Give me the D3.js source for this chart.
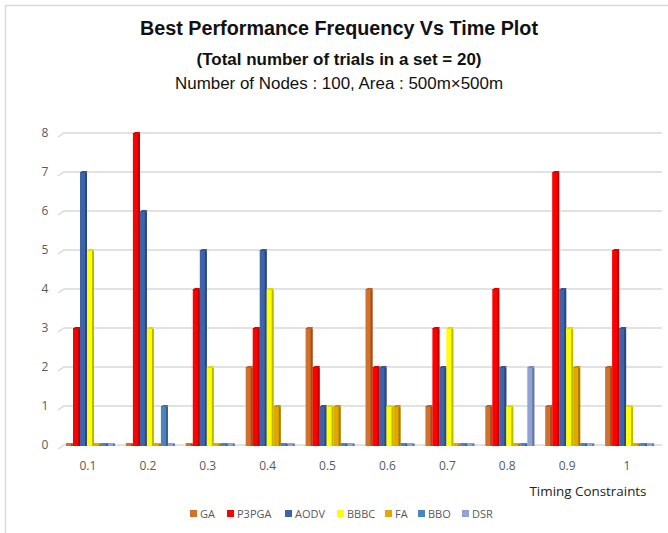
<!DOCTYPE html>
<html>
<head>
<meta charset="utf-8">
<script src="https://cdn.jsdelivr.net/npm/d3@7"></script>
<style>
  body { margin: 0; background: #fff; }
  svg { display: block; }
</style>
</head>
<body>
<div id="chart"></div>
<script>
// categories (timing constraints) and one array per algorithm
var categories = ["0.1", "0.2", "0.3", "0.4", "0.5", "0.6", "0.7", "0.8", "0.9", "1"];
var seriesNames = ["GA", "P3PGA", "AODV", "BBBC", "FA", "BBO", "DSR"];
var GA    = [0, 0, 0, 2, 3, 4, 1, 1, 1, 2];
var P3PGA = [3, 8, 4, 3, 2, 2, 3, 4, 7, 5];
var AODV  = [7, 6, 5, 5, 1, 2, 2, 2, 4, 3];
var BBBC  = [5, 3, 2, 4, 1, 1, 3, 1, 3, 1];
var FA    = [0, 0, 0, 1, 1, 1, 0, 0, 2, 0];
var BBO   = [0, 1, 0, 0, 0, 0, 0, 0, 0, 0];
var DSR   = [0, 0, 0, 0, 0, 0, 0, 2, 0, 0];
var yTicks = [0, 1, 2, 3, 4, 5, 6, 7, 8];

var colors = ["#d4702c", "#ff0000", "#3d63aa", "#ffff00", "#e3a700", "#4a85c0", "#8fa3d8"];
var seriesValues = [GA, P3PGA, AODV, BBBC, FA, BBO, DSR];

var W = 668, H = 533;
var svg = d3.select("#chart").append("svg")
    .attr("width", W)
    .attr("height", H);

// outer frame (only left and top edges are visible in the picture)
svg.append("path")
    .attr("d", "M5.5," + H + "L5.5,5.5L" + W + ",5.5")
    .attr("fill", "none")
    .attr("stroke", "#d9d9d9")
    .attr("stroke-width", 1.5);

// titles (the source text is a bit condensed, so fit widths with textLength)
function title(txt, yPos, font, len) {
    svg.append("text")
        .attr("x", 339).attr("y", yPos)
        .attr("text-anchor", "middle")
        .attr("textLength", len)
        .attr("lengthAdjust", "spacingAndGlyphs")
        .style("font", font)
        .style("fill", "#111")
        .text(txt);
}
title("Best Performance Frequency Vs Time Plot", 35, "bold 20px 'Liberation Sans', Arial, sans-serif", 398);
title("(Total number of trials in a set = 20)", 65, "bold 16.5px 'Liberation Sans', Arial, sans-serif", 285);
title("Number of Nodes : 100, Area : 500m\u00d7500m", 89, "16px 'Liberation Sans', Arial, sans-serif", 328);

var x0 = d3.scaleBand().domain(categories).range([58, 657]);
var x1 = d3.scaleBand().domain(seriesNames).range([8, 57]);
var y = d3.scaleLinear().domain([0, 8]).range([445, 133]);

// gridlines with a little 3D slant at the wall corner
svg.append("g").selectAll("path")
    .data(yTicks)
    .enter().append("path")
    .attr("d", function (d) {
        var yy = y(d);
        return "M58," + (yy + 4) + "L64," + yy + "L662," + yy;
    })
    .attr("fill", "none")
    .attr("stroke", "#d9d9d9")
    .attr("stroke-width", 1.5);

// y axis labels
svg.append("g").selectAll("text")
    .data(yTicks)
    .enter().append("text")
    .attr("x", 45)
    .attr("y", function (d) { return y(d) + 4; })
    .attr("text-anchor", "middle")
    .style("font", "12px 'Open Sans', sans-serif")
    .style("fill", "#595959")
    .text(function (d) { return d; });

// x axis labels
svg.append("g").selectAll("text")
    .data(categories)
    .enter().append("text")
    .attr("x", function (d) { return x0(d) + x0.bandwidth() / 2; })
    .attr("y", 470)
    .attr("text-anchor", "middle")
    .style("font", "12px 'Open Sans', sans-serif")
    .style("fill", "#595959")
    .text(function (d) { return d; });

svg.append("text")
    .attr("x", 588).attr("y", 496)
    .attr("text-anchor", "middle")
    .attr("textLength", 117)
    .attr("lengthAdjust", "spacingAndGlyphs")
    .style("font", "13px 'Open Sans', sans-serif")
    .style("fill", "#222")
    .text("Timing Constraints");

// bars: front face + darker right strip + top bevel
var bw = x1.bandwidth();
var groups = svg.append("g").selectAll("g")
    .data(categories)
    .enter().append("g")
    .attr("transform", function (d) { return "translate(" + x0(d) + ",0)"; });

var bars = groups.selectAll("g")
    .data(function (d, i) {
        return seriesNames.map(function (s, j) {
            return { name: s, value: seriesValues[j][i], color: colors[j] };
        });
    })
    .enter().append("g");

function barTop(d) { return d.value > 0 ? y(d.value) : y(0) - 2; }

bars.append("rect")
    .attr("x", function (d) { return x1(d.name); })
    .attr("y", barTop)
    .attr("width", bw)
    .attr("height", function (d) { return y(0) + 1 - barTop(d); })
    .attr("fill", function (d) { return d.color; });

bars.append("rect")
    .attr("x", function (d) { return x1(d.name) + bw - 2; })
    .attr("y", function (d) { return barTop(d) + 1; })
    .attr("width", 2)
    .attr("height", function (d) { return Math.max(0, y(0) - barTop(d)); })
    .attr("fill", function (d) { return d3.color(d.color).darker(0.9); });

bars.filter(function (d) { return d.value > 0; })
    .append("path")
    .attr("d", function (d) {
        var xx = x1(d.name), yy = barTop(d);
        return "M" + xx + "," + (yy + 1) + "L" + (xx + 2) + "," + (yy - 1) +
            "L" + (xx + bw + 0.5) + "," + (yy - 1) + "L" + (xx + bw - 1) + "," + (yy + 1) + "Z";
    })
    .attr("fill", function (d) { return d3.color(d.color).darker(0.4); });

// legend
var legendX = [190, 227, 285, 337, 385, 418, 462];
var legend = svg.append("g").selectAll("g")
    .data(seriesNames)
    .enter().append("g")
    .attr("transform", function (d, i) { return "translate(" + legendX[i] + ",510)"; });

legend.append("rect")
    .attr("width", 7).attr("height", 7)
    .attr("fill", function (d, i) { return colors[i]; });

legend.append("text")
    .attr("x", 10).attr("y", 7.5)
    .style("font", "11px 'Open Sans', sans-serif")
    .style("fill", "#595959")
    .text(function (d) { return d; });
</script>
</body>
</html>
